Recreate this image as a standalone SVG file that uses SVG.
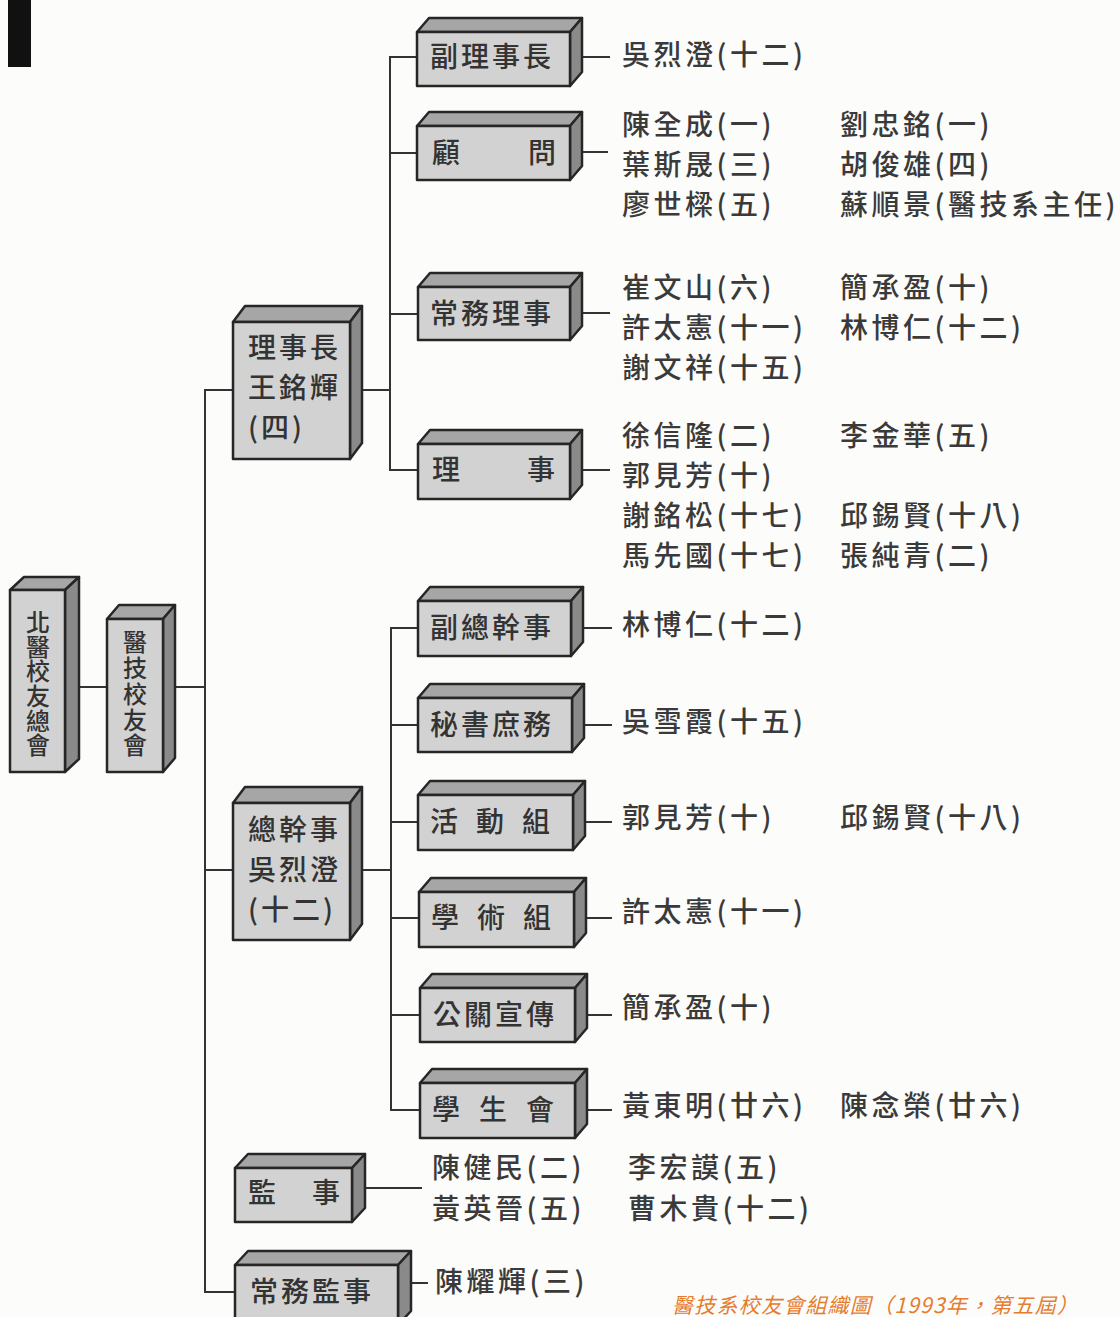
<svg xmlns="http://www.w3.org/2000/svg" width="1120" height="1317" viewBox="0 0 1120 1317">
<style>
.bg{fill:#fcfcfb}
.f{fill:#d2d2d2;stroke:#262626;stroke-width:2.5;stroke-linejoin:round}
.t{fill:#a6a6a6;stroke:#262626;stroke-width:2.5;stroke-linejoin:round}
.s{fill:#8a8a8a;stroke:#262626;stroke-width:2.5;stroke-linejoin:round}
.c{fill:none;stroke:#333;stroke-width:2}
text{font-family:"Noto Sans CJK TC","Noto Sans CJK SC",sans-serif}
.b{font-size:28px;letter-spacing:3px;fill:#333;font-weight:500}
.v{font-size:24px;fill:#333;font-weight:500;writing-mode:vertical-rl}
.n{font-size:28px;letter-spacing:3.5px;fill:#3a3a3a;font-weight:500}
.cap{font-size:21px;font-style:italic;fill:#e57c2e}
</style>
<rect class="bg" x="0" y="0" width="1120" height="1317"/>
<rect x="8" y="0" width="23" height="67" fill="#111"/>

<g id="connectors">
<path class="c" d="M79,687 H107"/>
<path class="c" d="M175,687 H205"/>
<path class="c" d="M233,390 H205 V1292 H235"/>
<path class="c" d="M205,870 H233"/>
<path class="c" d="M362,390 H390"/>
<path class="c" d="M417,57 H390 V470 H418"/>
<path class="c" d="M390,153 H417"/>
<path class="c" d="M390,314 H418"/>
<path class="c" d="M582,57 H610"/>
<path class="c" d="M582,152 H608"/>
<path class="c" d="M582,313 H610"/>
<path class="c" d="M582,470 H610"/>
<path class="c" d="M362,870 H391"/>
<path class="c" d="M418,628 H391 V1110 H420"/>
<path class="c" d="M391,725 H418"/>
<path class="c" d="M391,822 H418"/>
<path class="c" d="M391,918 H419"/>
<path class="c" d="M391,1015 H420"/>
<path class="c" d="M583,628 H612"/>
<path class="c" d="M584,725 H612"/>
<path class="c" d="M585,822 H612"/>
<path class="c" d="M586,918 H612"/>
<path class="c" d="M587,1015 H612"/>
<path class="c" d="M587,1110 H612"/>
<path class="c" d="M365,1188 H422"/>
<path class="c" d="M411,1283 H428"/>
</g>

<g id="n-beiyi">
<path class="t" d="M10,590 L24,577 L79,577 L65,590Z"/>
<path class="s" d="M65,590 L79,577 L79,759 L65,772Z"/>
<rect class="f" x="10" y="590" width="55" height="182"/>
<text class="v" x="38" y="610" letter-spacing="0.6">北醫校友總會</text>
</g>

<g id="n-yiji">
<path class="t" d="M107,619 L119,605 L175,605 L163,619Z"/>
<path class="s" d="M163,619 L175,605 L175,758 L163,772Z"/>
<rect class="f" x="107" y="619" width="56" height="153"/>
<text class="v" x="135" y="630" letter-spacing="1.8">醫技校友會</text>
</g>

<g id="n-lishizhang">
<path class="t" d="M233,322 L245,306 L362,306 L350,322Z"/>
<path class="s" d="M350,322 L362,306 L362,443 L350,459Z"/>
<rect class="f" x="233" y="322" width="117" height="137"/>
<text class="b" x="248" y="358">理事長</text>
<text class="b" x="248" y="398">王銘輝</text>
<text class="b" x="248" y="438">(四)</text>
</g>

<g id="n-zongganshi">
<path class="t" d="M233,803 L245,787 L362,787 L350,803Z"/>
<path class="s" d="M350,803 L362,787 L362,924 L350,940Z"/>
<rect class="f" x="233" y="803" width="117" height="137"/>
<text class="b" x="248" y="840">總幹事</text>
<text class="b" x="248" y="880">吳烈澄</text>
<text class="b" x="248" y="920">(十二)</text>
</g>

<g id="n-jianshi">
<path class="t" d="M235,1168 L248,1154 L365,1154 L352,1168Z"/>
<path class="s" d="M352,1168 L365,1154 L365,1208 L352,1222Z"/>
<rect class="f" x="235" y="1168" width="117" height="54"/>
<text class="b" x="248" y="1203">監</text>
<text class="b" x="312" y="1203">事</text>
</g>

<g id="n-changwujianshi">
<path class="t" d="M235,1265 L248,1251 L411,1251 L398,1265Z"/>
<path class="s" d="M398,1265 L411,1251 L411,1311 L398,1325Z"/>
<rect class="f" x="235" y="1265" width="163" height="60"/>
<text class="b" x="250" y="1302">常務監事</text>
</g>

<g id="n-fulishizhang">
<path class="t" d="M417,32 L429,18 L582,18 L570,32Z"/>
<path class="s" d="M570,32 L582,18 L582,72 L570,86Z"/>
<rect class="f" x="417" y="32" width="153" height="54"/>
<text class="b" x="430" y="67">副理事長</text>
</g>

<g id="n-guwen">
<path class="t" d="M417,126 L429,112 L582,112 L570,126Z"/>
<path class="s" d="M570,126 L582,112 L582,166 L570,180Z"/>
<rect class="f" x="417" y="126" width="153" height="54"/>
<text class="b" x="432" y="163">顧</text>
<text class="b" x="528" y="163">問</text>
</g>

<g id="n-changwulishi">
<path class="t" d="M418,287 L430,273 L582,273 L570,287Z"/>
<path class="s" d="M570,287 L582,273 L582,326 L570,340Z"/>
<rect class="f" x="418" y="287" width="152" height="53"/>
<text class="b" x="430" y="324">常務理事</text>
</g>

<g id="n-lishi">
<path class="t" d="M418,444 L430,430 L582,430 L570,444Z"/>
<path class="s" d="M570,444 L582,430 L582,485 L570,499Z"/>
<rect class="f" x="418" y="444" width="152" height="55"/>
<text class="b" x="432" y="480">理</text>
<text class="b" x="527" y="480">事</text>
</g>

<g id="n-fuzongganshi">
<path class="t" d="M418,601 L430,587 L583,587 L571,601Z"/>
<path class="s" d="M571,601 L583,587 L583,642 L571,656Z"/>
<rect class="f" x="418" y="601" width="153" height="55"/>
<text class="b" x="430" y="638">副總幹事</text>
</g>

<g id="n-mishu">
<path class="t" d="M418,698 L430,684 L584,684 L572,698Z"/>
<path class="s" d="M572,698 L584,684 L584,738 L572,752Z"/>
<rect class="f" x="418" y="698" width="154" height="54"/>
<text class="b" x="430" y="735">秘書庶務</text>
</g>

<g id="n-huodong">
<path class="t" d="M418,795 L430,781 L585,781 L573,795Z"/>
<path class="s" d="M573,795 L585,781 L585,836 L573,850Z"/>
<rect class="f" x="418" y="795" width="155" height="55"/>
<text class="b" x="430" y="832">活</text>
<text class="b" x="476" y="832">動</text>
<text class="b" x="522" y="832">組</text>
</g>

<g id="n-xueshu">
<path class="t" d="M419,892 L431,878 L586,878 L574,892Z"/>
<path class="s" d="M574,892 L586,878 L586,933 L574,947Z"/>
<rect class="f" x="419" y="892" width="155" height="55"/>
<text class="b" x="431" y="928">學</text>
<text class="b" x="477" y="928">術</text>
<text class="b" x="523" y="928">組</text>
</g>

<g id="n-gongguan">
<path class="t" d="M420,988 L432,974 L587,974 L575,988Z"/>
<path class="s" d="M575,988 L587,974 L587,1028 L575,1042Z"/>
<rect class="f" x="420" y="988" width="155" height="54"/>
<text class="b" x="433" y="1025">公關宣傳</text>
</g>

<g id="n-xueshenghui">
<path class="t" d="M420,1083 L432,1069 L587,1069 L575,1083Z"/>
<path class="s" d="M575,1083 L587,1069 L587,1124 L575,1138Z"/>
<rect class="f" x="420" y="1083" width="155" height="55"/>
<text class="b" x="432" y="1120">學</text>
<text class="b" x="479" y="1120">生</text>
<text class="b" x="526" y="1120">會</text>
</g>

<g id="names">
<text class="n" x="622" y="65">吳烈澄(十二)</text>
<text class="n" x="622" y="135">陳全成(一)</text>
<text class="n" x="840" y="135">劉忠銘(一)</text>
<text class="n" x="622" y="175">葉斯晟(三)</text>
<text class="n" x="840" y="175">胡俊雄(四)</text>
<text class="n" x="622" y="215">廖世樑(五)</text>
<text class="n" x="840" y="215">蘇順景(醫技系主任)</text>
<text class="n" x="622" y="298">崔文山(六)</text>
<text class="n" x="840" y="298">簡承盈(十)</text>
<text class="n" x="622" y="338">許太憲(十一)</text>
<text class="n" x="840" y="338">林博仁(十二)</text>
<text class="n" x="622" y="378">謝文祥(十五)</text>
<text class="n" x="622" y="446">徐信隆(二)</text>
<text class="n" x="840" y="446">李金華(五)</text>
<text class="n" x="622" y="486">郭見芳(十)</text>
<text class="n" x="622" y="526">謝銘松(十七)</text>
<text class="n" x="840" y="526">邱錫賢(十八)</text>
<text class="n" x="622" y="566">馬先國(十七)</text>
<text class="n" x="840" y="566">張純青(二)</text>
<text class="n" x="622" y="635">林博仁(十二)</text>
<text class="n" x="622" y="732">吳雪霞(十五)</text>
<text class="n" x="622" y="828">郭見芳(十)</text>
<text class="n" x="840" y="828">邱錫賢(十八)</text>
<text class="n" x="622" y="922">許太憲(十一)</text>
<text class="n" x="622" y="1018">簡承盈(十)</text>
<text class="n" x="622" y="1116">黃東明(廿六)</text>
<text class="n" x="840" y="1116">陳念榮(廿六)</text>
<text class="n" x="432" y="1178">陳健民(二)</text>
<text class="n" x="628" y="1178">李宏謨(五)</text>
<text class="n" x="432" y="1219">黃英晉(五)</text>
<text class="n" x="628" y="1219">曹木貴(十二)</text>
<text class="n" x="435" y="1292">陳耀輝(三)</text>
</g>

<text class="cap" x="672" y="1313" textLength="406" lengthAdjust="spacing">醫技系校友會組織圖（1993年，第五屆）</text>
</svg>
